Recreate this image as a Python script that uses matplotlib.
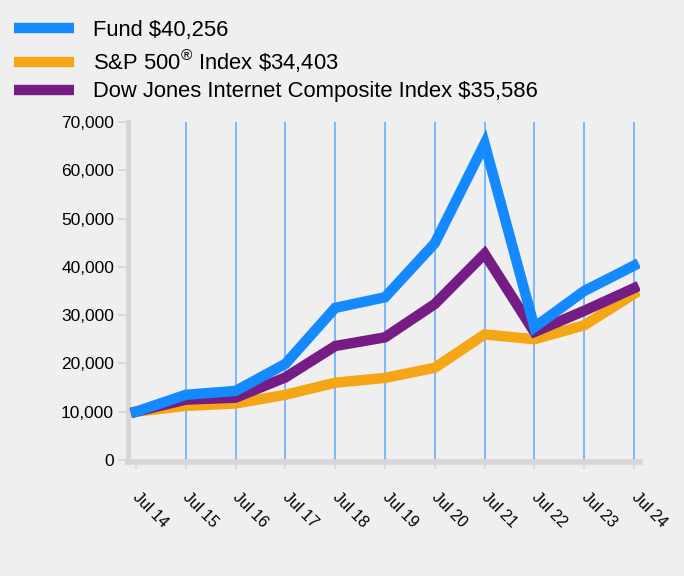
import matplotlib.pyplot as plt
import matplotlib.transforms as mtransforms
from matplotlib.lines import Line2D

plt.rcParams['font.family'] = ['Liberation Sans', 'DejaVu Sans']
plt.rcParams['mathtext.fontset'] = 'custom'
plt.rcParams['mathtext.rm'] = 'Liberation Sans'

# data
years = ['Jul 14', 'Jul 15', 'Jul 16', 'Jul 17', 'Jul 18', 'Jul 19',
         'Jul 20', 'Jul 21', 'Jul 22', 'Jul 23', 'Jul 24']
fund = [10000, 13500, 14300, 19900, 31500, 33700, 44900, 65500, 27500, 35000, 40256]
sp500 = [10000, 11200, 11700, 13500, 16000, 17000, 19100, 26000, 25000, 27900, 34403]
djinet = [10000, 12500, 12900, 17100, 23600, 25400, 32300, 42700, 26500, 30900, 35586]

labels = ['Fund \\$40,256',
          'S&P 500$^{\u00ae}$ Index \\$34,403',
          'Dow Jones Internet Composite Index \\$35,586']
colors = ['#1589ff', '#f5a614', '#751c85']

bg = '#efefef'
fig = plt.figure(figsize=(6.84, 5.76), dpi=100, facecolor=bg)
ax = fig.add_axes([128 / 684, 114 / 576, 512 / 684, 340 / 576], facecolor=bg)

x = list(range(len(years)))
for i in x[1:]:
    ax.axvline(i, color='#6aaeff', lw=1.2, zorder=1)

ax.plot(x, sp500, color=colors[1], lw=7.5, zorder=3, solid_joinstyle='miter')
ax.plot(x, djinet, color=colors[2], lw=7.5, zorder=4, solid_joinstyle='miter')
ax.plot(x, fund, color=colors[0], lw=7.5, zorder=5, solid_joinstyle='miter')

ax.set_xlim(-0.16, 10.12)
ax.set_ylim(-420, 70000)
ax.set_yticks(range(0, 70001, 10000))
ax.set_yticklabels([f'{v:,}' for v in range(0, 70001, 10000)], fontsize=12.5)
ax.set_xticks(x)
ax.set_xticklabels(years, fontsize=11.5, rotation=-45, ha='left', va='top',
                   rotation_mode='anchor')
ax.tick_params(axis='x', length=5, color='#d6d6d6', width=1.2, pad=15)
ax.tick_params(axis='y', length=7, color='#d6d6d6', width=1.2, pad=3)
shift = mtransforms.ScaledTranslation(5 / 100, 0, fig.dpi_scale_trans)
for t in ax.get_xticklabels():
    t.set_transform(t.get_transform() + shift)

for s in ['top', 'right']:
    ax.spines[s].set_visible(False)
ax.spines['left'].set_color('#d6d6d6')
ax.spines['left'].set_linewidth(3.5)
ax.spines['bottom'].set_color('#d6d6d6')
ax.spines['bottom'].set_linewidth(4)

handles = [Line2D([], [], color=c, lw=7.5, solid_capstyle='butt') for c in colors]
fig.legend(handles, labels, loc='upper left', bbox_to_anchor=(-0.009, 1.0),
           frameon=False, fontsize=15.8, handlelength=2.75, handletextpad=0.85,
           labelspacing=0.3)

fig.savefig('out.png', dpi=100, facecolor=bg)
